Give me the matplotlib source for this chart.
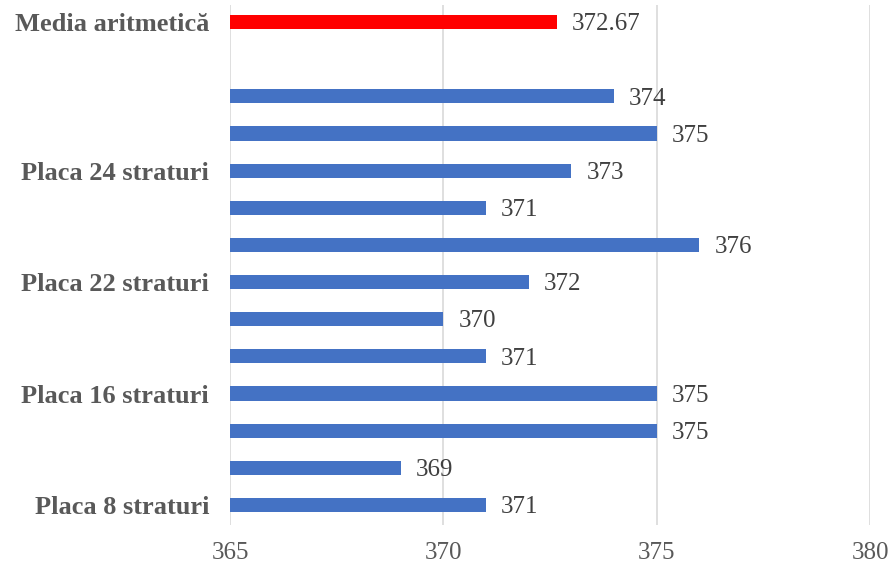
import numpy as np
import matplotlib.pyplot as plt

plt.rcParams['font.family'] = ['Liberation Serif', 'DejaVu Serif']

# samples from bottom to top, then the mean on its own row
labels = ["Placa 8 straturi", "", "",
          "Placa 16 straturi", "", "",
          "Placa 22 straturi", "", "",
          "Placa 24 straturi", "", "", "",
          "Media aritmetică"]
values = [371, 369, 375, 375, 371, 370, 372, 376, 371, 373, 375, 374, None, 372.67]
value_text = ["371", "369", "375", "375", "371", "370", "372", "376", "371", "373",
              "375", "374", "", "372.67"]

fig = plt.figure(figsize=(8.93, 5.68), dpi=100)
ax = fig.add_axes([0.2576, 0.075, 0.9743 - 0.2576, 0.9157])

base = 365
ypos = np.arange(len(labels))
for y, v, t in zip(ypos, values, value_text):
    if v is None:
        continue
    color = "#FF0000" if labels[y] == "Media aritmetică" else "#4472C4"
    ax.barh(y, v - base, left=base, height=0.38, color=color, zorder=3)
    ax.text(v + 0.35, y - 0.06, t, va="center", ha="left", fontsize=18, color="#404040")

ax.set_xlim(365, 380)
ax.set_ylim(-0.55, 13.45)
ax.set_xticks([365, 370, 375, 380])
ax.set_yticks(ypos)
ax.set_yticklabels(labels, fontsize=19, fontweight="bold", color="#595959")
ax.tick_params(axis="x", labelsize=18, labelcolor="#595959", length=0, pad=12)
ax.tick_params(axis="y", length=0, pad=15)
ax.grid(axis="x", color="#D9D9D9", linewidth=1.2, zorder=0)
for s in ax.spines.values():
    s.set_visible(False)

fig.savefig("out.png", dpi=100)
